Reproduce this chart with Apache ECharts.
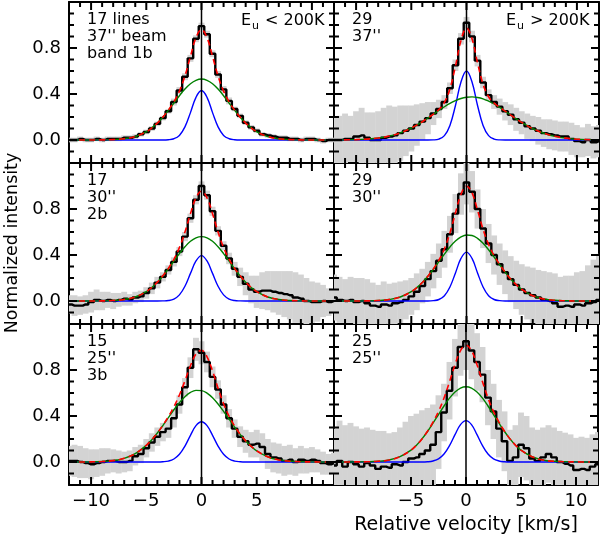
<!DOCTYPE html>
<html><head><meta charset="utf-8">
<script src="https://cdn.jsdelivr.net/npm/echarts@6/dist/echarts.min.js"></script>
<style>html,body{margin:0;padding:0;background:#fff}#c{width:601px;height:545px}</style>
</head><body><div id="c"></div><script>
// Spectral channels (km/s)
const vel = [-12,-11.5,-11,-10.5,-10,-9.5,-9,-8.5,-8,-7.5,-7,-6.5,-6,-5.5,-5,-4.5,-4,-3.5,-3,-2.5,-2,-1.5,-1,-0.5,0,0.5,1,1.5,2,2.5,3,3.5,4,4.5,5,5.5,6,6.5,7,7.5,8,8.5,9,9.5,10,10.5,11,11.5,12];
// Model sampling velocities (km/s)
const mvel = [-12,-10,-9,-8,-7,-6,-5,-4.5,-4,-3.5,-3,-2.5,-2,-1.5,-1,-0.5,0,0.5,1,1.5,2,2.5,3,3.5,4,4.5,5,6,7,8,9,10,12];

// Top-left: 17 lines, 37'' beam, band 1b
const specTL = [0.00,0.00,0.01,0.00,0.00,0.01,0.00,0.01,0.01,0.01,0.02,0.02,0.03,0.05,0.07,0.10,0.14,0.19,0.25,0.33,0.43,0.55,0.71,0.88,0.99,0.92,0.75,0.57,0.44,0.34,0.27,0.21,0.15,0.11,0.08,0.05,0.04,0.03,0.02,0.02,0.01,0.01,0.00,0.01,0.01,0.00,-0.01,0.00,0.00];
const errTL = [0.02,0.02,0.02,0.02,0.02,0.02,0.02,0.02,0.02,0.02,0.02,0.02,0.02,0.02,0.02,0.02,0.02,0.02,0.02,0.03,0.03,0.03,0.03,0.03,0.03,0.03,0.03,0.03,0.03,0.03,0.02,0.02,0.02,0.02,0.02,0.02,0.02,0.02,0.02,0.02,0.02,0.02,0.02,0.02,0.02,0.02,0.02,0.02,0.02];
const greenTL = [0,0,0.001,0.003,0.011,0.030,0.072,0.105,0.147,0.199,0.258,0.321,0.385,0.443,0.489,0.519,0.530,0.519,0.489,0.443,0.385,0.321,0.258,0.199,0.147,0.105,0.072,0.030,0.011,0.003,0.001,0,0];
const blueTL = [0,0,0,0,0,0,0,0,0,0,0.002,0.011,0.040,0.114,0.238,0.371,0.430,0.371,0.238,0.114,0.040,0.011,0.002,0,0,0,0,0,0,0,0,0,0];
const fitTL = [0,0,0.001,0.003,0.011,0.030,0.072,0.105,0.147,0.199,0.260,0.332,0.425,0.557,0.727,0.890,0.960,0.890,0.727,0.557,0.425,0.332,0.260,0.199,0.147,0.105,0.072,0.030,0.011,0.003,0.001,0,0];

// Top-right: 29 lines, 37''
const specTR = [0.00,0.00,0.01,0.01,0.03,0.04,0.02,0.00,0.00,0.02,0.03,0.04,0.06,0.08,0.10,0.13,0.16,0.19,0.23,0.27,0.33,0.45,0.65,0.88,1.02,0.90,0.69,0.50,0.39,0.33,0.29,0.25,0.22,0.18,0.15,0.12,0.10,0.08,0.06,0.05,0.04,0.03,0.03,0.01,-0.01,-0.02,0.00,-0.02,-0.01];
const errTR = [0.20,0.21,0.22,0.20,0.22,0.24,0.22,0.24,0.25,0.26,0.27,0.25,0.24,0.22,0.20,0.18,0.16,0.14,0.10,0.08,0.06,0.05,0.05,0.05,0.05,0.05,0.05,0.05,0.05,0.06,0.07,0.08,0.09,0.10,0.10,0.11,0.11,0.12,0.12,0.13,0.13,0.13,0.13,0.14,0.14,0.13,0.14,0.14,0.14];
const greenTR = [0,0.003,0.008,0.017,0.034,0.062,0.104,0.130,0.159,0.191,0.224,0.257,0.289,0.318,0.342,0.361,0.372,0.375,0.370,0.358,0.338,0.313,0.283,0.251,0.217,0.184,0.153,0.099,0.059,0.032,0.016,0.007,0.001];
const blueTR = [0,0,0,0,0,0,0,0,0,0,0.001,0.008,0.038,0.127,0.300,0.505,0.600,0.505,0.300,0.127,0.038,0.008,0.001,0,0,0,0,0,0,0,0,0,0];
const fitTR = [0,0.003,0.008,0.017,0.034,0.062,0.104,0.130,0.159,0.191,0.225,0.265,0.327,0.445,0.642,0.866,0.972,0.880,0.670,0.485,0.376,0.321,0.284,0.251,0.217,0.184,0.153,0.099,0.059,0.032,0.016,0.007,0.001];

// Middle-left: 17, 30'', 2b
const specML = [-0.03,-0.04,-0.04,-0.03,-0.01,0.01,0.00,0.01,0.00,0.01,0.02,0.01,0.03,0.04,0.07,0.11,0.16,0.21,0.27,0.34,0.43,0.56,0.72,0.88,1.00,0.92,0.78,0.61,0.48,0.37,0.28,0.21,0.15,0.10,0.08,0.09,0.09,0.08,0.07,0.06,0.05,0.03,0.02,0.00,-0.01,-0.01,0.00,-0.01,0.00];
const errML = [0.08,0.09,0.08,0.08,0.09,0.09,0.08,0.07,0.07,0.06,0.06,0.05,0.05,0.05,0.05,0.05,0.05,0.04,0.04,0.04,0.04,0.04,0.04,0.04,0.04,0.04,0.04,0.04,0.04,0.05,0.06,0.08,0.10,0.12,0.14,0.16,0.17,0.18,0.19,0.20,0.21,0.22,0.21,0.20,0.18,0.17,0.14,0.12,0.10];
const greenML = [0,0,0.001,0.004,0.013,0.035,0.082,0.118,0.164,0.218,0.280,0.346,0.412,0.471,0.519,0.549,0.560,0.549,0.519,0.471,0.412,0.346,0.280,0.218,0.164,0.118,0.082,0.035,0.013,0.004,0.001,0,0];
const blueML = [0,0,0,0,0,0,0,0,0,0.001,0.004,0.017,0.053,0.128,0.240,0.348,0.395,0.348,0.240,0.128,0.053,0.017,0.004,0.001,0,0,0,0,0,0,0,0,0];
const fitML = [0,0,0.001,0.004,0.013,0.035,0.082,0.118,0.164,0.219,0.284,0.363,0.465,0.599,0.759,0.897,0.955,0.897,0.759,0.599,0.465,0.363,0.284,0.219,0.164,0.118,0.082,0.035,0.013,0.004,0.001,0,0];

// Middle-right: 29, 30''
const specMR = [0.03,0.01,0.00,0.01,-0.01,0.00,-0.02,-0.04,-0.05,-0.03,-0.04,-0.02,-0.01,0.01,0.04,0.08,0.13,0.19,0.26,0.35,0.45,0.58,0.76,0.93,1.03,0.95,0.80,0.63,0.50,0.40,0.32,0.25,0.19,0.14,0.10,0.07,0.05,0.03,0.01,0.00,-0.02,-0.05,-0.04,-0.05,-0.03,-0.04,-0.02,-0.01,0.01];
const errMR = [0.20,0.20,0.19,0.20,0.21,0.20,0.21,0.20,0.19,0.20,0.19,0.18,0.18,0.17,0.16,0.16,0.15,0.15,0.15,0.15,0.16,0.16,0.17,0.18,0.19,0.18,0.17,0.17,0.17,0.17,0.18,0.19,0.20,0.21,0.22,0.23,0.24,0.24,0.25,0.25,0.26,0.26,0.26,0.27,0.28,0.30,0.33,0.37,0.40];
const greenMR = [0,0,0.001,0.004,0.013,0.035,0.081,0.116,0.161,0.215,0.276,0.342,0.408,0.470,0.521,0.557,0.574,0.570,0.545,0.502,0.446,0.382,0.315,0.251,0.192,0.142,0.101,0.046,0.018,0.006,0.002,0,0];
const blueMR = [0,0,0,0,0,0,0,0,0,0,0.003,0.013,0.046,0.122,0.244,0.370,0.425,0.370,0.244,0.122,0.046,0.013,0.003,0,0,0,0,0,0,0,0,0,0];
const fitMR = [0,0,0.001,0.004,0.013,0.035,0.081,0.116,0.161,0.215,0.279,0.355,0.454,0.592,0.765,0.927,0.999,0.940,0.789,0.624,0.492,0.395,0.318,0.251,0.192,0.142,0.101,0.046,0.018,0.006,0.002,0,0];

// Bottom-left: 15, 25'', 3b
const specBL = [0.01,0.01,0.00,-0.01,-0.02,-0.01,0.00,0.01,0.01,0.00,0.00,0.01,0.05,0.07,0.12,0.17,0.22,0.26,0.29,0.38,0.50,0.65,0.82,0.98,0.95,0.87,0.74,0.63,0.50,0.38,0.29,0.22,0.18,0.15,0.16,0.13,0.07,0.04,0.03,0.01,0.02,0.00,0.02,0.01,0.02,0.01,-0.01,-0.02,-0.01];
const errBL = [0.13,0.14,0.14,0.13,0.13,0.12,0.12,0.11,0.10,0.10,0.09,0.09,0.08,0.08,0.08,0.08,0.08,0.08,0.08,0.08,0.08,0.08,0.09,0.10,0.10,0.09,0.09,0.08,0.08,0.08,0.08,0.09,0.10,0.11,0.12,0.12,0.13,0.13,0.13,0.13,0.13,0.12,0.12,0.11,0.11,0.10,0.10,0.09,0.09];
const greenBL = [0,0.001,0.004,0.012,0.032,0.073,0.145,0.194,0.252,0.317,0.386,0.454,0.516,0.568,0.605,0.623,0.621,0.599,0.559,0.504,0.440,0.372,0.304,0.240,0.184,0.136,0.097,0.045,0.018,0.007,0.002,0.001,0];
const blueBL = [0,0,0,0,0,0,0,0,0,0.002,0.008,0.026,0.067,0.138,0.232,0.316,0.350,0.316,0.232,0.138,0.067,0.026,0.008,0.002,0,0,0,0,0,0,0,0,0];
const fitBL = [0,0.001,0.004,0.012,0.032,0.073,0.145,0.194,0.252,0.319,0.394,0.480,0.583,0.706,0.837,0.939,0.971,0.915,0.791,0.642,0.507,0.398,0.312,0.242,0.184,0.136,0.097,0.045,0.018,0.007,0.002,0.001,0];

// Bottom-right: 25, 25''
const specBR = [-0.03,0.01,-0.04,0.00,-0.02,-0.04,-0.01,-0.03,-0.06,-0.04,-0.05,-0.02,-0.03,0.00,0.03,0.04,0.07,0.10,0.15,0.26,0.43,0.62,0.82,1.00,1.05,0.97,0.87,0.76,0.56,0.44,0.29,0.18,0.01,0.04,0.15,0.12,0.03,0.01,0.04,0.07,0.04,0.00,-0.015,-0.03,-0.07,-0.06,-0.07,-0.04,-0.02];
const errBR = [0.32,0.35,0.36,0.34,0.33,0.33,0.31,0.31,0.33,0.31,0.30,0.28,0.33,0.35,0.37,0.38,0.38,0.37,0.35,0.32,0.25,0.25,0.25,0.25,0.25,0.25,0.25,0.24,0.24,0.24,0.25,0.26,0.27,0.28,0.28,0.28,0.27,0.27,0.26,0.25,0.26,0.27,0.27,0.27,0.28,0.28,0.28,0.28,0.28];
const greenBR = [0,0.001,0.002,0.006,0.017,0.046,0.103,0.146,0.201,0.265,0.337,0.413,0.487,0.555,0.608,0.643,0.655,0.643,0.608,0.555,0.487,0.413,0.337,0.265,0.201,0.146,0.103,0.046,0.017,0.006,0.002,0.001,0];
const blueBR = [0,0,0,0,0,0,0,0,0,0.002,0.009,0.027,0.069,0.142,0.238,0.325,0.360,0.325,0.238,0.142,0.069,0.027,0.009,0.002,0,0,0,0,0,0,0,0,0];
const fitBR = [0,0.001,0.002,0.006,0.017,0.046,0.103,0.146,0.201,0.267,0.346,0.440,0.556,0.697,0.846,0.968,1.015,0.968,0.846,0.697,0.556,0.440,0.346,0.267,0.201,0.146,0.103,0.046,0.017,0.006,0.002,0.001,0];

// Ticks and tick labels
const xTickLabelsLeft = [-10,-5,0,5];
const xTickLabelsRight = [-5,0,5,10];
const xMinorTicks = [-11,-10,-9,-8,-7,-6,-5,-4,-3,-2,-1,0,1,2,3,4,5,6,7,8,9,10,11];
const xMajorTicks = [-10,-5,0,5,10];
const yMinorTicks = [-0.1,0,0.1,0.2,0.3,0.4,0.5,0.6,0.7,0.8,0.9,1.0,1.1];
const yMajorTicks = [0,0.4,0.8];
const yTickLabels = ['0.0','0.4','0.8'];

const panelText = [
  ['17 lines',"37'' beam",'band 1b'],
  ['29',"37''"],
  ['17',"30''",'2b'],
  ['29',"30''"],
  ['15',"25''",'3b'],
  ['25',"25''"]
];
const euText = ['< 200K','> 200K'];

const panels = [
  {spec:specTL, err:errTL, green:greenTL, blue:blueTL, fit:fitTL},
  {spec:specTR, err:errTR, green:greenTR, blue:blueTR, fit:fitTR},
  {spec:specML, err:errML, green:greenML, blue:blueML, fit:fitML},
  {spec:specMR, err:errMR, green:greenMR, blue:blueMR, fit:fitMR},
  {spec:specBL, err:errBL, green:greenBL, blue:blueBL, fit:fitBL},
  {spec:specBR, err:errBR, green:greenBR, blue:blueBR, fit:fitBR}
];

const FONT = 'DejaVu Sans';
const CHAN_HALF = 0.25;
const X_MIN = -12, X_MAX = 12, Y_MIN = -0.2, Y_MAX = 1.2;
const MINOR_LEN = 5, MAJOR_LEN = 8, TICK_W = 2;
const chart = echarts.init(document.getElementById('c'), null, {renderer:'canvas', width:601, height:545});
const gridLeft = [69, 334], gridTop = [2, 163, 324], gridW = 265, gridH = 161;
const grids = [], xAxes = [], yAxes = [], series = [], graphics = [];
function fmtNum(v){ return v < 0 ? '\u2212' + (-v) : String(v); }
const axisLineOn = {show:true, onZero:false, lineStyle:{color:'#000', width:2}};

function bandItem(params, api) {
  const v = api.value(0), lo = api.value(1), hi = api.value(2);
  const a = api.coord([v - CHAN_HALF, hi]), b = api.coord([v + CHAN_HALF, lo]);
  const cs = params.coordSys;
  const rect = echarts.graphic.clipRectByRect(
    {x:a[0] - 0.2, y:a[1], width:b[0] - a[0] + 0.4, height:b[1] - a[1]},
    {x:cs.x, y:cs.y, width:cs.width, height:cs.height});
  return rect ? {type:'rect', shape:rect, style:{fill:'#d3d3d3'}} : null;
}
function isMajorX(v){ return xMajorTicks.indexOf(Math.round(v)) >= 0; }
function isMajorY(v){ return yMajorTicks.some(m => Math.abs(m - v) < 1e-6); }
// Tick marks as small filled rects, positioned through each grid's scales
function tickBottom(params, api) {
  const v = api.value(0), len = isMajorX(v) ? MAJOR_LEN : MINOR_LEN;
  const p = api.coord([v, Y_MIN]);
  return {type:'rect', shape:{x:p[0] - TICK_W/2, y:p[1] - len, width:TICK_W, height:len}, style:{fill:'#000'}};
}
function tickTop(params, api) {
  const v = api.value(0), len = isMajorX(v) ? MAJOR_LEN : MINOR_LEN;
  const p = api.coord([v, Y_MAX]);
  return {type:'rect', shape:{x:p[0] - TICK_W/2, y:p[1], width:TICK_W, height:len}, style:{fill:'#000'}};
}
function tickLeft(params, api) {
  const v = api.value(1), len = isMajorY(v) ? MAJOR_LEN : MINOR_LEN;
  const p = api.coord([X_MIN, v]);
  return {type:'rect', shape:{x:p[0], y:p[1] - TICK_W/2, width:len, height:TICK_W}, style:{fill:'#000'}};
}
function tickRight(params, api) {
  const v = api.value(1), len = isMajorY(v) ? MAJOR_LEN : MINOR_LEN;
  const p = api.coord([X_MAX, v]);
  return {type:'rect', shape:{x:p[0] - len, y:p[1] - TICK_W/2, width:len, height:TICK_W}, style:{fill:'#000'}};
}

panels.forEach((p, i) => {
  const r = Math.floor(i/2), c = i % 2;
  grids.push({left:gridLeft[c], top:gridTop[r], width:gridW, height:gridH, show:false});
  const xi = xAxes.length, yi = yAxes.length;
  const xb = {type:'value', gridIndex:i, min:X_MIN, max:X_MAX, splitLine:{show:false}, axisTick:{show:false}, axisLine:axisLineOn};
  const labs = c === 0 ? xTickLabelsLeft : xTickLabelsRight;
  xAxes.push(Object.assign({}, xb, {position:'bottom', interval:1,
    axisLabel:{show: r === 2, margin:7, color:'#000', fontFamily:FONT, fontSize:18,
      formatter: v => labs.indexOf(Math.round(v)) >= 0 && Math.abs(v - Math.round(v)) < 1e-6 ? fmtNum(Math.round(v)) : ''}}));
  xAxes.push(Object.assign({}, xb, {position:'top', interval:1, axisLabel:{show:false}}));
  const yb = {type:'value', gridIndex:i, min:Y_MIN, max:Y_MAX, splitLine:{show:false}, axisTick:{show:false}, axisLine:axisLineOn};
  yAxes.push(Object.assign({}, yb, {position:'left', interval:0.1,
    axisLabel:{show: c === 0, margin:8, color:'#000', fontFamily:FONT, fontSize:18,
      formatter: v => { for (let k = 0; k < yMajorTicks.length; k++) { if (Math.abs(v - yMajorTicks[k]) < 1e-6) return yTickLabels[k]; } return ''; }}}));
  yAxes.push(Object.assign({}, yb, {position:'right', interval:0.1, axisLabel:{show:false}}));

  series.push({type:'custom', xAxisIndex:xi, yAxisIndex:yi, silent:true, z:1,
    data: vel.map((v,k)=>[v, p.spec[k]-p.err[k], p.spec[k]+p.err[k]]),
    encode:{x:0, y:[1,2]}, renderItem: bandItem});
  const common = {type:'line', xAxisIndex:xi, yAxisIndex:yi, symbol:'none', silent:true, clip:true};
  series.push(Object.assign({}, common, {data: vel.map((v,k)=>[v, p.spec[k]]), step:'middle',
    lineStyle:{color:'#000', width:2.4}, z:3}));
  series.push(Object.assign({}, common, {data: mvel.map((v,k)=>[v, p.blue[k]]), smooth:0.4,
    lineStyle:{color:'#0000ff', width:1.4}, z:4}));
  series.push(Object.assign({}, common, {data: mvel.map((v,k)=>[v, p.green[k]]), smooth:0.4,
    lineStyle:{color:'#008000', width:1.4}, z:4}));
  series.push(Object.assign({}, common, {data: mvel.map((v,k)=>[v, p.fit[k]]), smooth:0.4,
    lineStyle:{color:'#ff0000', width:1.6, type:[6,4]}, z:5}));
  series.push(Object.assign({}, common, {data: [[0,Y_MIN],[0,Y_MAX]],
    lineStyle:{color:'#000', width:1.5}, z:6}));

  const xt = xMinorTicks.map(v => [v, 0.5]);
  const yt = yMinorTicks.map(v => [0, v]);
  [tickBottom, tickTop].forEach(fn => series.push({type:'custom', xAxisIndex:xi, yAxisIndex:yi, silent:true, z:8,
    data: xt, encode:{x:0, y:1}, renderItem: fn}));
  [tickLeft, tickRight].forEach(fn => series.push({type:'custom', xAxisIndex:xi, yAxisIndex:yi, silent:true, z:8,
    data: yt, encode:{x:0, y:1}, renderItem: fn}));

  const tx = gridLeft[c] + 18, ty = gridTop[r] + 18;
  panelText[i].forEach((s, k) => {
    graphics.push({type:'text', x:tx, y:ty + 17*k, z:100,
      style:{text:s, fill:'#000', font:'16px "DejaVu Sans"', textAlign:'left', textVerticalAlign:'middle'}});
  });
  if (r === 0) {
    const ex = gridLeft[c] + 172;
    graphics.push({type:'text', x:ex, y:ty+1, z:100, style:{text:'E', fill:'#000', font:'16px "DejaVu Sans"', textAlign:'left', textVerticalAlign:'middle'}});
    graphics.push({type:'text', x:ex+11, y:ty+6, z:100, style:{text:'u', fill:'#000', font:'11px "DejaVu Sans"', textAlign:'left', textVerticalAlign:'middle'}});
    graphics.push({type:'text', x:ex+24, y:ty+1, z:100, style:{text:euText[c], fill:'#000', font:'16px "DejaVu Sans"', textAlign:'left', textVerticalAlign:'middle'}});
  }
});

graphics.push({type:'text', x:12, y:243, rotation:Math.PI/2, z:100,
  style:{text:'Normalized intensity', fill:'#000', font:'17.5px "DejaVu Sans"', textAlign:'center', textVerticalAlign:'middle'}});
graphics.push({type:'text', x:466, y:525, z:100,
  style:{text:'Relative velocity [km/s]', fill:'#000', font:'19px "DejaVu Sans"', textAlign:'center', textVerticalAlign:'middle'}});

chart.setOption({
  animation:false,
  backgroundColor:'#fff',
  textStyle:{fontFamily:FONT},
  grid:grids, xAxis:xAxes, yAxis:yAxes, series:series, graphic:graphics
});
</script></body></html>
